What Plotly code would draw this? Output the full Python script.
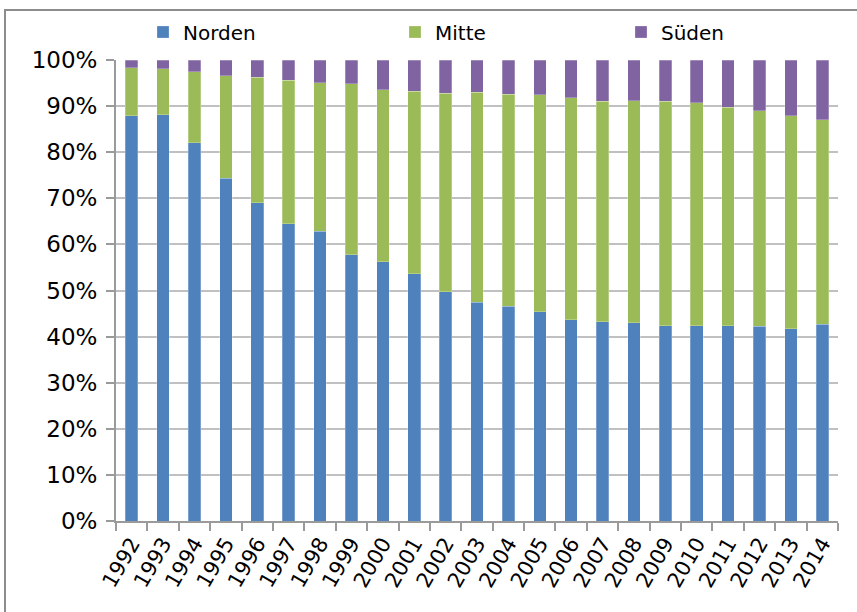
import plotly.graph_objects as go

years = [str(y) for y in range(1992, 2015)]
# shares in %
norden = [87.9, 88.1, 82.1, 74.3, 69.0, 64.5, 62.9, 57.8, 56.2, 53.6, 49.7, 47.4,
          46.6, 45.4, 43.7, 43.2, 43.0, 42.4, 42.4, 42.4, 42.2, 41.7, 42.7]
mitte = [10.4, 10.0, 15.4, 22.3, 27.3, 31.1, 32.2, 37.1, 37.4, 39.6, 43.1, 45.6,
         46.0, 47.1, 48.1, 47.9, 48.2, 48.7, 48.3, 47.4, 46.8, 46.2, 44.3]
sueden = [1.7, 1.9, 2.5, 3.4, 3.7, 4.4, 4.9, 5.1, 6.4, 6.8, 7.2, 7.0,
          7.4, 7.5, 8.2, 8.9, 8.8, 8.9, 9.3, 10.2, 11.0, 12.1, 13.0]
names = ["Norden", "Mitte", "Süden"]
colors = ["#4F81BD", "#9BBB59", "#8064A2"]

FONT = "DejaVu Sans"
fig = go.Figure()
for i, (nm, vals, col) in enumerate(zip(names, [norden, mitte, sueden], colors)):
    fig.add_trace(go.Bar(
        x=years, y=[v / 100 for v in vals], name=nm,
        marker=dict(color=col, line=dict(color="rgba(255,255,255,0.5)", width=0.5)),
        legend="legend" if i == 0 else f"legend{i+1}",
    ))

leg_common = dict(orientation="h", yanchor="middle", xanchor="left",
                  font=dict(family=FONT, size=20, color="#000000"),
                  bgcolor="rgba(0,0,0,0)", itemwidth=30)
# plot area: x 116..838, y 60..521
def px_x(px):
    return (px - 116) / 722

ly = 1 + (60 - 32) / 461
fig.update_layout(
    width=857, height=612,
    margin=dict(l=116, r=19, t=60, b=91),
    paper_bgcolor="white", plot_bgcolor="white",
    barmode="stack", bargap=0.6,
    showlegend=True,
    legend=dict(x=px_x(143), y=ly, **leg_common),
    legend2=dict(x=px_x(395), y=ly, **leg_common),
    legend3=dict(x=px_x(621), y=ly, **leg_common),
    xaxis=dict(
        type="category", showgrid=False, showline=True, linecolor="#9a9a9a", linewidth=2,
        ticks="outside", tickson="boundaries", ticklen=8, tickcolor="#9a9a9a", tickwidth=2,
        tickangle=-60, tickfont=dict(family=FONT, size=21, color="#000000"),
        automargin=False,
    ),
    yaxis=dict(
        range=[0, 1], dtick=0.1, tickformat=".0%", showgrid=True, gridcolor="#c0c0c0",
        gridwidth=2, showline=True, linecolor="#9a9a9a", linewidth=2,
        ticks="outside", ticklen=8, tickcolor="#9a9a9a", tickwidth=2,
        tickfont=dict(family=FONT, size=23, color="#000000"), zeroline=False,
        ticklabelstandoff=4, automargin=False,
    ),
    shapes=[dict(type="rect", xref="paper", yref="paper",
                 x0=(5 - 116) / 722, x1=1.2, y0=-0.5, y1=1 + (60 - 10) / 461,
                 line=dict(color="#8c8c8c", width=2), fillcolor="rgba(0,0,0,0)", layer="below")],
)

fig.write_html("out.html", config={"displayModeBar": False},
               post_script="document.body.style.margin='0';")
